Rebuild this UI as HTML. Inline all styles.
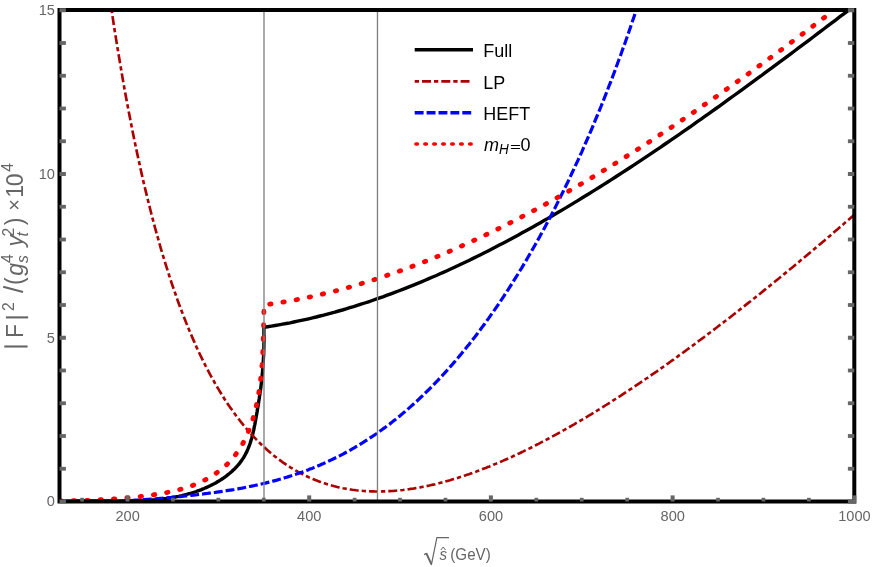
<!DOCTYPE html>
<html><head><meta charset="utf-8"><title>plot</title>
<style>
html,body{margin:0;padding:0;background:#fff;}
body{width:872px;height:567px;position:relative;overflow:hidden;font-family:"Liberation Sans",sans-serif;}
</style></head><body>
<svg width="872" height="567" viewBox="0 0 872 567" style="position:absolute;left:0;top:0;will-change:transform;opacity:0.999">
<defs><clipPath id="c"><rect x="59.5" y="10.0" width="794.8" height="491.5"/></clipPath></defs>
<g clip-path="url(#c)" fill="none">
<path d="M59.6,501.7 L61.2,501.6 L62.8,501.5 L64.4,501.4 L66.0,501.4 L67.7,501.3 L69.3,501.2 L70.9,501.1 L72.6,501.1 L74.2,501.0 L75.8,501.0 L77.5,501.0 L79.1,500.9 L80.8,500.9 L82.4,500.9 L84.1,500.9 L85.7,500.9 L87.4,500.9 L89.1,500.9 L90.7,500.9 L92.4,500.9 L94.0,500.9 L95.7,500.9 L97.4,500.9 L99.0,500.9 L100.7,500.9 L102.4,501.0 L104.0,501.0 L105.7,501.0 L107.4,501.0 L109.1,501.0 L110.7,501.0 L112.4,501.0 L114.1,501.1 L115.8,501.1 L117.4,501.1 L119.1,501.1 L120.8,501.1 L122.5,501.1 L124.1,501.1 L125.8,501.0 L127.5,501.0 L129.2,501.0 L130.8,501.0 L132.5,500.9 L134.2,500.9 L135.9,500.9 L137.5,500.8 L139.2,500.8 L140.9,500.7 L142.5,500.6 L144.2,500.5 L145.9,500.4 L147.5,500.3 L149.2,500.2 L150.8,500.1 L152.5,500.0 L154.2,499.9 L155.8,499.7 L157.5,499.5 L159.1,499.4 L160.8,499.2 L162.4,499.0 L164.1,498.8 L165.7,498.6 L167.3,498.3 L169.0,498.1 L170.6,497.8 L172.2,497.5 L173.8,497.3 L175.5,497.0 L177.1,496.6 L178.7,496.3 L180.3,495.9 L181.9,495.6 L183.5,495.2 L185.1,494.8 L186.7,494.4 L188.3,493.9 L189.9,493.5 L191.5,493.0 L193.1,492.5 L194.7,492.0 L196.2,491.5 L197.8,490.9 L199.4,490.3 L200.9,489.8 L202.5,489.1 L204.0,488.5 L205.6,487.8 L207.1,487.2 L208.6,486.5 L210.1,485.8 L211.6,485.0 L213.1,484.2 L214.6,483.5 L216.1,482.7 L217.5,481.8 L218.9,481.0 L220.3,480.1 L221.7,479.2 L223.1,478.3 L224.5,477.3 L225.8,476.4 L227.1,475.4 L228.4,474.3 L229.7,473.3 L230.9,472.2 L232.1,471.2 L233.3,470.0 L234.5,468.9 L235.6,467.8 L236.7,466.6 L237.8,465.4 L238.9,464.1 L239.9,462.9 L240.8,461.6 L241.8,460.3 L242.7,458.9 L243.6,457.6 L244.4,456.2 L245.2,454.8 L245.9,453.3 L246.7,451.9 L247.3,450.4 L248.0,448.9 L248.6,447.4 L249.2,445.8 L249.8,444.3 L250.3,442.7 L250.8,441.1 L251.3,439.5 L251.8,437.9 L252.2,436.2 L252.6,434.6 L253.0,432.9 L253.4,431.3 L253.8,429.6 L254.1,427.9 L254.4,426.3 L254.8,424.6 L255.1,422.9 L255.4,421.2 L255.7,419.6 L256.0,417.9 L256.3,416.2 L256.6,414.6 L256.9,412.9 L257.2,411.3 L257.4,409.6 L257.7,408.0 L258.0,406.3 L258.3,404.7 L258.5,403.1 L258.8,401.4 L259.0,399.8 L259.3,398.2 L259.5,396.5 L259.8,394.9 L260.0,393.3 L260.2,391.6 L260.5,390.0 L260.7,388.4 L260.9,386.8 L261.1,385.1 L261.3,383.5 L261.5,381.9 L261.7,380.2 L261.8,378.6 L262.0,376.9 L262.2,375.3 L262.3,373.7 L262.5,372.0 L262.6,370.4 L262.7,368.7 L262.9,367.1 L263.0,365.5 L263.1,363.8 L263.2,362.2 L263.3,360.5 L263.4,358.9 L263.5,357.2 L263.6,355.6 L263.7,353.9 L263.7,352.2 L263.8,350.6 L263.8,348.9 L263.9,347.3 L263.9,345.6 L263.9,344.0 L264.0,342.3 L264.0,340.6 L264.0,339.0 L264.0,337.3 L264.0,335.6 L263.9,334.0 L263.9,332.3 L263.9,330.6 L263.9,328.9 L263.9,327.3 L267.6,326.7 L271.4,326.1 L275.1,325.5 L278.8,324.9 L282.6,324.2 L286.3,323.5 L290.1,322.8 L293.8,322.0 L297.5,321.2 L301.3,320.4 L305.0,319.6 L308.7,318.8 L312.5,317.9 L316.2,317.0 L319.9,316.0 L323.7,315.1 L327.4,314.1 L331.2,313.1 L334.9,312.1 L338.6,311.0 L342.4,310.0 L346.1,308.9 L349.8,307.7 L353.6,306.6 L357.3,305.4 L361.0,304.2 L364.8,303.0 L368.5,301.8 L372.3,300.5 L376.0,299.2 L379.7,297.9 L383.5,296.6 L387.2,295.2 L390.9,293.8 L394.7,292.4 L398.4,291.0 L402.1,289.6 L405.9,288.1 L409.6,286.6 L413.4,285.1 L417.1,283.6 L420.8,282.1 L424.6,280.5 L428.3,278.9 L432.0,277.3 L435.8,275.7 L439.5,274.0 L443.3,272.4 L447.0,270.7 L450.7,269.0 L454.5,267.3 L458.2,265.5 L461.9,263.8 L465.7,262.0 L469.4,260.2 L473.1,258.4 L476.9,256.5 L480.6,254.7 L484.4,252.8 L488.1,250.9 L491.8,249.0 L495.6,247.1 L499.3,245.1 L503.0,243.2 L506.8,241.2 L510.5,239.2 L514.2,237.2 L518.0,235.2 L521.7,233.1 L525.5,231.1 L529.2,229.0 L532.9,226.9 L536.7,224.8 L540.4,222.7 L544.1,220.5 L547.9,218.4 L551.6,216.2 L555.3,214.0 L559.1,211.8 L562.8,209.6 L566.6,207.4 L570.3,205.1 L574.0,202.9 L577.8,200.6 L581.5,198.3 L585.2,196.0 L589.0,193.7 L592.7,191.4 L596.4,189.1 L600.2,186.7 L603.9,184.4 L607.7,182.0 L611.4,179.6 L615.1,177.2 L618.9,174.8 L622.6,172.4 L626.3,170.0 L630.1,167.5 L633.8,165.1 L637.5,162.6 L641.3,160.1 L645.0,157.6 L648.8,155.1 L652.5,152.6 L656.2,150.1 L660.0,147.6 L663.7,145.0 L667.4,142.5 L671.2,139.9 L674.9,137.3 L678.6,134.8 L682.4,132.2 L686.1,129.6 L689.9,127.0 L693.6,124.3 L697.3,121.7 L701.1,119.1 L704.8,116.4 L708.5,113.8 L712.3,111.1 L716.0,108.5 L719.8,105.8 L723.5,103.1 L727.2,100.4 L731.0,97.7 L734.7,95.0 L738.4,92.3 L742.2,89.6 L745.9,86.9 L749.6,84.2 L753.4,81.4 L757.1,78.7 L760.9,76.0 L764.6,73.2 L768.3,70.4 L772.1,67.7 L775.8,64.9 L779.5,62.1 L783.3,59.4 L787.0,56.6 L790.7,53.8 L794.5,51.0 L798.2,48.2 L802.0,45.4 L805.7,42.6 L809.4,39.8 L813.2,37.0 L816.9,34.2 L820.6,31.4 L824.4,28.5 L828.1,25.7 L831.8,22.9 L835.6,20.1 L839.3,17.2 L843.1,14.4 L846.8,11.6 L850.5,8.7 L854.3,5.9 L858.0,3.1" stroke="#000" stroke-width="3.4" stroke-linejoin="miter"/>
<path d="M108.0,-14.5 L109.9,-1.5 L111.8,11.3 L113.6,23.6 L115.5,35.6 L117.4,47.3 L119.3,58.7 L121.2,69.8 L123.0,80.6 L124.9,91.2 L126.8,101.4 L128.7,111.4 L130.6,121.1 L132.4,130.6 L134.3,139.8 L136.2,148.8 L138.1,157.6 L140.0,166.2 L141.8,174.5 L143.7,182.7 L145.6,190.6 L147.5,198.4 L149.4,206.0 L151.2,213.3 L153.1,220.5 L155.0,227.6 L156.9,234.4 L158.8,241.1 L160.6,247.7 L162.5,254.0 L164.4,260.3 L166.3,266.4 L168.2,272.3 L170.0,278.1 L171.9,283.8 L173.8,289.3 L175.7,294.7 L177.5,300.0 L179.4,305.2 L181.3,310.2 L183.2,315.1 L185.1,319.9 L186.9,324.6 L188.8,329.2 L190.7,333.7 L192.6,338.1 L194.5,342.4 L196.3,346.6 L198.2,350.7 L200.1,354.7 L202.0,358.6 L203.9,362.4 L205.7,366.1 L207.6,369.7 L209.5,373.3 L211.4,376.8 L213.3,380.2 L215.1,383.5 L217.0,386.7 L218.9,389.9 L220.8,393.0 L222.7,396.0 L224.5,399.0 L226.4,401.9 L228.3,404.7 L230.2,407.4 L232.1,410.1 L233.9,412.7 L235.8,415.3 L237.7,417.8 L239.6,420.2 L241.5,422.6 L243.3,424.9 L245.2,427.2 L247.1,429.4 L249.0,431.6 L250.9,433.7 L252.7,435.7 L254.6,437.7 L256.5,439.7 L258.4,441.6 L260.3,443.5 L262.1,445.3 L264.0,447.0 L265.9,448.7 L267.8,450.4 L269.7,452.1 L271.5,453.6 L273.4,455.2 L275.3,456.7 L277.2,458.1 L279.1,459.6 L280.9,460.9 L282.8,462.3 L284.7,463.6 L286.6,464.9 L288.5,466.1 L290.3,467.3 L292.2,468.4 L294.1,469.6 L296.0,470.7 L297.8,471.7 L299.7,472.7 L301.6,473.7 L303.5,474.7 L305.4,475.6 L307.2,476.5 L309.1,477.4 L311.0,478.2 L312.9,479.0 L314.8,479.8 L316.6,480.5 L318.5,481.2 L320.4,481.9 L322.3,482.6 L324.2,483.2 L326.0,483.8 L327.9,484.4 L329.8,485.0 L331.7,485.5 L333.6,486.0 L335.4,486.5 L337.3,487.0 L339.2,487.4 L341.1,487.8 L343.0,488.2 L344.8,488.5 L346.7,488.9 L348.6,489.2 L350.5,489.5 L352.4,489.8 L354.2,490.0 L356.1,490.3 L358.0,490.5 L359.9,490.7 L361.8,490.8 L363.6,491.0 L365.5,491.1 L367.4,491.2 L369.3,491.3 L371.2,491.4 L373.0,491.4 L374.9,491.5 L376.8,491.5 L378.7,491.5 L380.6,491.5 L382.4,491.4 L384.3,491.4 L386.2,491.3 L388.1,491.2 L390.0,491.1 L391.8,491.0 L393.7,490.9 L395.6,490.7 L397.5,490.5 L399.4,490.4 L401.2,490.2 L403.1,490.0 L405.0,489.7 L406.9,489.5 L408.8,489.2 L410.6,488.9 L412.5,488.7 L414.4,488.4 L416.3,488.0 L418.2,487.7 L420.0,487.4 L421.9,487.0 L423.8,486.6 L425.7,486.3 L427.5,485.9 L429.4,485.5 L431.3,485.0 L433.2,484.6 L435.1,484.2 L436.9,483.7 L438.8,483.2 L440.7,482.7 L442.6,482.3 L444.5,481.7 L446.3,481.2 L448.2,480.7 L450.1,480.2 L452.0,479.6 L453.9,479.0 L455.7,478.5 L457.6,477.9 L459.5,477.3 L461.4,476.7 L463.3,476.1 L465.1,475.4 L467.0,474.8 L468.9,474.2 L470.8,473.5 L472.7,472.8 L474.5,472.1 L476.4,471.5 L478.3,470.8 L480.2,470.1 L482.1,469.3 L483.9,468.6 L485.8,467.9 L487.7,467.1 L489.6,466.4 L491.5,465.6 L493.3,464.8 L495.2,464.1 L497.1,463.3 L499.0,462.5 L500.9,461.7 L502.7,460.9 L504.6,460.0 L506.5,459.2 L508.4,458.4 L510.3,457.5 L512.1,456.7 L514.0,455.8 L515.9,454.9 L517.8,454.0 L519.7,453.2 L521.5,452.3 L523.4,451.4 L525.3,450.4 L527.2,449.5 L529.1,448.6 L530.9,447.7 L532.8,446.7 L534.7,445.8 L536.6,444.8 L538.5,443.9 L540.3,442.9 L542.2,441.9 L544.1,440.9 L546.0,439.9 L547.8,439.0 L549.7,438.0 L551.6,436.9 L553.5,435.9 L555.4,434.9 L557.2,433.9 L559.1,432.8 L561.0,431.8 L562.9,430.7 L564.8,429.7 L566.6,428.6 L568.5,427.6 L570.4,426.5 L572.3,425.4 L574.2,424.3 L576.0,423.2 L577.9,422.1 L579.8,421.0 L581.7,419.9 L583.6,418.8 L585.4,417.7 L587.3,416.6 L589.2,415.4 L591.1,414.3 L593.0,413.1 L594.8,412.0 L596.7,410.8 L598.6,409.7 L600.5,408.5 L602.4,407.3 L604.2,406.2 L606.1,405.0 L608.0,403.8 L609.9,402.6 L611.8,401.4 L613.6,400.2 L615.5,399.0 L617.4,397.8 L619.3,396.6 L621.2,395.4 L623.0,394.1 L624.9,392.9 L626.8,391.7 L628.7,390.4 L630.6,389.2 L632.4,387.9 L634.3,386.7 L636.2,385.4 L638.1,384.1 L640.0,382.9 L641.8,381.6 L643.7,380.3 L645.6,379.0 L647.5,377.8 L649.4,376.5 L651.2,375.2 L653.1,373.9 L655.0,372.6 L656.9,371.3 L658.8,369.9 L660.6,368.6 L662.5,367.3 L664.4,366.0 L666.3,364.6 L668.2,363.3 L670.0,362.0 L671.9,360.6 L673.8,359.3 L675.7,357.9 L677.5,356.6 L679.4,355.2 L681.3,353.9 L683.2,352.5 L685.1,351.1 L686.9,349.8 L688.8,348.4 L690.7,347.0 L692.6,345.6 L694.5,344.2 L696.3,342.8 L698.2,341.4 L700.1,340.0 L702.0,338.6 L703.9,337.2 L705.7,335.8 L707.6,334.4 L709.5,333.0 L711.4,331.6 L713.3,330.1 L715.1,328.7 L717.0,327.3 L718.9,325.8 L720.8,324.4 L722.7,323.0 L724.5,321.5 L726.4,320.1 L728.3,318.6 L730.2,317.2 L732.1,315.7 L733.9,314.3 L735.8,312.8 L737.7,311.3 L739.6,309.8 L741.5,308.4 L743.3,306.9 L745.2,305.4 L747.1,303.9 L749.0,302.4 L750.9,301.0 L752.7,299.5 L754.6,298.0 L756.5,296.5 L758.4,295.0 L760.3,293.5 L762.1,292.0 L764.0,290.4 L765.9,288.9 L767.8,287.4 L769.7,285.9 L771.5,284.4 L773.4,282.9 L775.3,281.3 L777.2,279.8 L779.1,278.3 L780.9,276.7 L782.8,275.2 L784.7,273.6 L786.6,272.1 L788.5,270.6 L790.3,269.0 L792.2,267.5 L794.1,265.9 L796.0,264.3 L797.8,262.8 L799.7,261.2 L801.6,259.6 L803.5,258.1 L805.4,256.5 L807.2,254.9 L809.1,253.4 L811.0,251.8 L812.9,250.2 L814.8,248.6 L816.6,247.0 L818.5,245.4 L820.4,243.9 L822.3,242.3 L824.2,240.7 L826.0,239.1 L827.9,237.5 L829.8,235.9 L831.7,234.3 L833.6,232.6 L835.4,231.0 L837.3,229.4 L839.2,227.8 L841.1,226.2 L843.0,224.6 L844.8,222.9 L846.7,221.3 L848.6,219.7 L850.5,218.1 L852.4,216.4 L854.2,214.8 L856.1,213.2 L858.0,211.5" stroke="#aa0000" stroke-width="2.65" stroke-dasharray="9 3.02 4.3 3.022" stroke-dashoffset="7.74"/>
<path d="M59.5,500.9 L61.4,501.0 L63.4,501.2 L65.3,501.3 L67.3,501.4 L69.2,501.6 L71.1,501.7 L73.1,501.7 L75.0,501.8 L77.0,501.9 L78.9,501.9 L80.9,502.0 L82.8,502.0 L84.7,502.0 L86.7,502.0 L88.6,502.0 L90.6,502.0 L92.5,502.0 L94.4,502.0 L96.4,501.9 L98.3,501.9 L100.3,501.9 L102.2,501.8 L104.2,501.8 L106.1,501.7 L108.0,501.6 L110.0,501.6 L111.9,501.5 L113.9,501.4 L115.8,501.3 L117.7,501.2 L119.7,501.1 L121.6,501.0 L123.6,500.9 L125.5,500.8 L127.5,500.7 L129.4,500.6 L131.3,500.5 L133.3,500.3 L135.2,500.2 L137.2,500.1 L139.1,500.0 L141.0,499.8 L143.0,499.7 L144.9,499.6 L146.9,499.4 L148.8,499.3 L150.7,499.1 L152.7,499.0 L154.6,498.8 L156.6,498.7 L158.5,498.5 L160.5,498.3 L162.4,498.2 L164.3,498.0 L166.3,497.8 L168.2,497.7 L170.2,497.5 L172.1,497.3 L174.0,497.1 L176.0,496.9 L177.9,496.7 L179.9,496.6 L181.8,496.4 L183.8,496.2 L185.7,496.0 L187.6,495.8 L189.6,495.6 L191.5,495.3 L193.5,495.1 L195.4,494.9 L197.3,494.7 L199.3,494.4 L201.2,494.2 L203.2,494.0 L205.1,493.7 L207.1,493.5 L209.0,493.2 L210.9,493.0 L212.9,492.7 L214.8,492.5 L216.8,492.2 L218.7,491.9 L220.6,491.6 L222.6,491.3 L224.5,491.0 L226.5,490.7 L228.4,490.4 L230.3,490.1 L232.3,489.8 L234.2,489.5 L236.2,489.1 L238.1,488.8 L240.1,488.4 L242.0,488.1 L243.9,487.7 L245.9,487.3 L247.8,486.9 L249.8,486.5 L251.7,486.1 L253.6,485.7 L255.6,485.3 L257.5,484.9 L259.5,484.4 L261.4,484.0 L263.4,483.5 L265.3,483.1 L267.2,482.6 L269.2,482.1 L271.1,481.6 L273.1,481.1 L275.0,480.6 L276.9,480.1 L278.9,479.5 L280.8,479.0 L282.8,478.4 L284.7,477.8 L286.7,477.2 L288.6,476.6 L290.5,476.0 L292.5,475.4 L294.4,474.7 L296.4,474.1 L298.3,473.4 L300.2,472.7 L302.2,472.1 L304.1,471.4 L306.1,470.6 L308.0,469.9 L309.9,469.1 L311.9,468.4 L313.8,467.6 L315.8,466.8 L317.7,466.0 L319.7,465.2 L321.6,464.3 L323.5,463.5 L325.5,462.6 L327.4,461.7 L329.4,460.8 L331.3,459.9 L333.2,459.0 L335.2,458.0 L337.1,457.1 L339.1,456.1 L341.0,455.1 L343.0,454.1 L344.9,453.0 L346.8,452.0 L348.8,450.9 L350.7,449.8 L352.7,448.7 L354.6,447.6 L356.5,446.4 L358.5,445.3 L360.4,444.1 L362.4,442.9 L364.3,441.7 L366.3,440.4 L368.2,439.2 L370.1,437.9 L372.1,436.6 L374.0,435.3 L376.0,434.0 L377.9,432.6 L379.8,431.2 L381.8,429.8 L383.7,428.4 L385.7,427.0 L387.6,425.5 L389.6,424.1 L391.5,422.6 L393.4,421.0 L395.4,419.5 L397.3,417.9 L399.3,416.4 L401.2,414.8 L403.1,413.1 L405.1,411.5 L407.0,409.8 L409.0,408.1 L410.9,406.4 L412.8,404.7 L414.8,402.9 L416.7,401.2 L418.7,399.3 L420.6,397.5 L422.6,395.7 L424.5,393.8 L426.4,391.9 L428.4,390.0 L430.3,388.1 L432.3,386.1 L434.2,384.1 L436.1,382.1 L438.1,380.1 L440.0,378.0 L442.0,375.9 L443.9,373.8 L445.9,371.7 L447.8,369.5 L449.7,367.4 L451.7,365.2 L453.6,362.9 L455.6,360.7 L457.5,358.4 L459.4,356.1 L461.4,353.8 L463.3,351.4 L465.3,349.0 L467.2,346.6 L469.2,344.2 L471.1,341.7 L473.0,339.2 L475.0,336.7 L476.9,334.2 L478.9,331.6 L480.8,329.0 L482.7,326.4 L484.7,323.8 L486.6,321.1 L488.6,318.4 L490.5,315.7 L492.4,312.9 L494.4,310.1 L496.3,307.3 L498.3,304.5 L500.2,301.6 L502.2,298.7 L504.1,295.8 L506.0,292.8 L508.0,289.9 L509.9,286.8 L511.9,283.8 L513.8,280.7 L515.7,277.6 L517.7,274.5 L519.6,271.3 L521.6,268.1 L523.5,264.9 L525.5,261.6 L527.4,258.3 L529.3,255.0 L531.3,251.6 L533.2,248.2 L535.2,244.8 L537.1,241.4 L539.0,237.9 L541.0,234.3 L542.9,230.8 L544.9,227.2 L546.8,223.6 L548.8,219.9 L550.7,216.2 L552.6,212.5 L554.6,208.7 L556.5,204.9 L558.5,201.0 L560.4,197.1 L562.3,193.2 L564.3,189.3 L566.2,185.3 L568.2,181.2 L570.1,177.1 L572.0,173.0 L574.0,168.8 L575.9,164.6 L577.9,160.4 L579.8,156.1 L581.8,151.8 L583.7,147.4 L585.6,143.0 L587.6,138.5 L589.5,134.0 L591.5,129.5 L593.4,124.9 L595.3,120.2 L597.3,115.5 L599.2,110.8 L601.2,106.0 L603.1,101.1 L605.1,96.2 L607.0,91.3 L608.9,86.3 L610.9,81.3 L612.8,76.2 L614.8,71.0 L616.7,65.8 L618.6,60.5 L620.6,55.2 L622.5,49.8 L624.5,44.4 L626.4,38.9 L628.4,33.3 L630.3,27.7 L632.2,22.1 L634.2,16.3 L636.1,10.5 L638.1,4.6 L640.0,-1.3" stroke="#0000ff" stroke-width="3.2" stroke-dasharray="8.9 3.002" stroke-dashoffset="11.8"/>
<path d="M59.5,501.0 L61.2,501.0 L62.9,500.9 L64.7,500.9 L66.4,500.9 L68.1,500.8 L69.9,500.8 L71.6,500.7 L73.3,500.7 L75.0,500.7 L76.8,500.6 L78.5,500.6 L80.2,500.5 L81.9,500.5 L83.7,500.4 L85.4,500.4 L87.1,500.3 L88.8,500.3 L90.6,500.2 L92.3,500.1 L94.0,500.1 L95.7,500.0 L97.4,499.9 L99.1,499.8 L100.9,499.7 L102.6,499.7 L104.3,499.6 L106.0,499.5 L107.7,499.4 L109.4,499.3 L111.1,499.2 L112.9,499.0 L114.6,498.9 L116.3,498.8 L118.0,498.7 L119.7,498.5 L121.4,498.4 L123.1,498.3 L124.8,498.1 L126.5,498.0 L128.3,497.8 L130.0,497.6 L131.7,497.5 L133.4,497.3 L135.1,497.1 L136.8,496.9 L138.5,496.7 L140.2,496.5 L141.9,496.3 L143.6,496.1 L145.3,495.9 L147.1,495.7 L148.8,495.4 L150.5,495.2 L152.2,495.0 L153.9,494.7 L155.6,494.4 L157.3,494.2 L159.0,493.9 L160.7,493.6 L162.4,493.3 L164.1,493.0 L165.8,492.7 L167.5,492.4 L169.2,492.0 L170.9,491.7 L172.6,491.3 L174.3,490.9 L176.0,490.5 L177.7,490.1 L179.4,489.6 L181.0,489.2 L182.7,488.7 L184.4,488.2 L186.0,487.7 L187.7,487.2 L189.3,486.6 L191.0,486.0 L192.6,485.4 L194.2,484.8 L195.8,484.2 L197.4,483.5 L199.0,482.8 L200.6,482.1 L202.2,481.3 L203.8,480.5 L205.3,479.8 L206.9,478.9 L208.4,478.1 L209.9,477.2 L211.4,476.3 L212.8,475.4 L214.3,474.5 L215.7,473.5 L217.1,472.5 L218.5,471.5 L219.9,470.5 L221.2,469.5 L222.6,468.4 L223.9,467.3 L225.1,466.1 L226.4,465.0 L227.6,463.8 L228.8,462.6 L229.9,461.4 L231.1,460.2 L232.2,458.9 L233.3,457.6 L234.3,456.3 L235.3,455.0 L236.3,453.6 L237.3,452.3 L238.3,450.9 L239.2,449.5 L240.1,448.0 L241.0,446.6 L241.8,445.1 L242.7,443.7 L243.5,442.2 L244.3,440.7 L245.0,439.2 L245.8,437.6 L246.5,436.1 L247.2,434.5 L247.9,432.9 L248.5,431.3 L249.2,429.7 L249.8,428.1 L250.4,426.5 L251.0,424.9 L251.5,423.2 L252.1,421.6 L252.6,419.9 L253.1,418.3 L253.6,416.6 L254.1,414.9 L254.5,413.2 L255.0,411.5 L255.4,409.8 L255.8,408.1 L256.2,406.4 L256.6,404.6 L256.9,402.9 L257.3,401.2 L257.6,399.5 L257.9,397.7 L258.2,396.0 L258.5,394.3 L258.8,392.5 L259.1,390.8 L259.4,389.1 L259.6,387.3 L259.8,385.6 L260.1,383.9 L260.3,382.1 L260.5,380.4 L260.7,378.7 L260.9,376.9 L261.1,375.2 L261.2,373.5 L261.4,371.8 L261.5,370.1 L261.7,368.4 L261.8,366.7 L262.0,365.0 L262.1,363.3 L262.2,361.6 L262.3,359.9 L262.4,358.2 L262.5,356.5 L262.6,354.8 L262.7,353.1 L262.8,351.4 L262.8,349.7 L262.9,348.0 L263.0,346.3 L263.1,344.6 L263.1,342.9 L263.2,341.2 L263.2,339.5 L263.3,337.8 L263.3,336.1 L263.4,334.4 L263.4,332.7 L263.4,331.0 L263.5,329.3 L263.5,327.6 L263.6,325.9 L263.6,324.2 L263.6,322.4 L263.7,320.7 L263.7,319.0 L263.7,317.2 L263.8,315.5 L263.8,313.7 L263.9,312.0 L263.9,310.2 L263.9,308.4 L264.0,306.7 L263.9,305.0 L267.5,304.5 L271.0,304.0 L274.6,303.5 L278.2,302.9 L281.7,302.3 L285.3,301.7 L288.9,301.1 L292.4,300.5 L296.0,299.8 L299.6,299.1 L303.1,298.4 L306.7,297.6 L310.3,296.9 L313.8,296.1 L317.4,295.3 L321.0,294.5 L324.5,293.6 L328.1,292.8 L331.7,291.9 L335.2,291.0 L338.8,290.0 L342.4,289.1 L345.9,288.1 L349.5,287.1 L353.1,286.1 L356.6,285.1 L360.2,284.0 L363.8,282.9 L367.3,281.8 L370.9,280.7 L374.5,279.6 L378.0,278.4 L381.6,277.2 L385.2,276.0 L388.7,274.8 L392.3,273.6 L395.9,272.4 L399.4,271.1 L403.0,269.8 L406.6,268.5 L410.1,267.2 L413.7,265.8 L417.3,264.4 L420.8,263.1 L424.4,261.7 L428.0,260.2 L431.5,258.8 L435.1,257.4 L438.7,255.9 L442.2,254.4 L445.8,252.9 L449.4,251.4 L452.9,249.8 L456.5,248.3 L460.1,246.7 L463.6,245.1 L467.2,243.5 L470.8,241.9 L474.3,240.2 L477.9,238.6 L481.5,236.9 L485.0,235.2 L488.6,233.5 L492.2,231.8 L495.7,230.0 L499.3,228.3 L502.9,226.5 L506.4,224.7 L510.0,222.9 L513.6,221.1 L517.1,219.2 L520.7,217.4 L524.3,215.5 L527.8,213.7 L531.4,211.8 L535.0,209.9 L538.5,207.9 L542.1,206.0 L545.7,204.1 L549.2,202.1 L552.8,200.1 L556.4,198.1 L559.9,196.1 L563.5,194.1 L567.1,192.1 L570.6,190.0 L574.2,188.0 L577.8,185.9 L581.3,183.8 L584.9,181.7 L588.5,179.6 L592.0,177.5 L595.6,175.3 L599.2,173.2 L602.7,171.0 L606.3,168.9 L609.9,166.7 L613.4,164.5 L617.0,162.3 L620.6,160.1 L624.1,157.8 L627.7,155.6 L631.3,153.3 L634.8,151.1 L638.4,148.8 L642.0,146.5 L645.5,144.2 L649.1,141.9 L652.7,139.6 L656.2,137.2 L659.8,134.9 L663.4,132.5 L666.9,130.2 L670.5,127.8 L674.1,125.4 L677.6,123.0 L681.2,120.6 L684.8,118.2 L688.3,115.8 L691.9,113.4 L695.5,110.9 L699.0,108.5 L702.6,106.0 L706.2,103.5 L709.7,101.1 L713.3,98.6 L716.9,96.1 L720.4,93.6 L724.0,91.1 L727.6,88.5 L731.1,86.0 L734.7,83.5 L738.3,80.9 L741.8,78.4 L745.4,75.8 L749.0,73.3 L752.5,70.7 L756.1,68.1 L759.7,65.5 L763.2,62.9 L766.8,60.3 L770.4,57.7 L773.9,55.1 L777.5,52.5 L781.1,49.9 L784.6,47.2 L788.2,44.6 L791.8,41.9 L795.3,39.3 L798.9,36.6 L802.5,34.0 L806.0,31.3 L809.6,28.6 L813.2,25.9 L816.7,23.2 L820.3,20.5 L823.9,17.8 L827.4,15.1 L831.0,12.4" stroke="#ff0000" stroke-width="4.8" stroke-linecap="round" stroke-dasharray="1.4 12" stroke-dashoffset="13.0"/>
</g>
<line x1="264.0" y1="10.0" x2="264.0" y2="501.5" stroke="#808080" stroke-width="1.35"/>
<line x1="377.48" y1="10.0" x2="377.48" y2="501.5" stroke="#808080" stroke-width="1.35"/>
<rect x="59.5" y="10.0" width="794.8" height="491.5" fill="none" stroke="#000" stroke-width="4"/>
<rect x="59.5" y="499.50" width="6.4" height="4.0" fill="#666666"/>
<rect x="847.9" y="499.50" width="6.4" height="4.0" fill="#666666"/>
<rect x="59.5" y="466.85" width="6.4" height="3.8" fill="#666666"/>
<rect x="847.9" y="466.85" width="6.4" height="3.8" fill="#666666"/>
<rect x="59.5" y="434.10" width="6.4" height="3.8" fill="#666666"/>
<rect x="847.9" y="434.10" width="6.4" height="3.8" fill="#666666"/>
<rect x="59.5" y="401.35" width="6.4" height="3.8" fill="#666666"/>
<rect x="847.9" y="401.35" width="6.4" height="3.8" fill="#666666"/>
<rect x="59.5" y="368.60" width="6.4" height="3.8" fill="#666666"/>
<rect x="847.9" y="368.60" width="6.4" height="3.8" fill="#666666"/>
<rect x="59.5" y="335.75" width="6.4" height="4.0" fill="#666666"/>
<rect x="847.9" y="335.75" width="6.4" height="4.0" fill="#666666"/>
<rect x="59.5" y="303.10" width="6.4" height="3.8" fill="#666666"/>
<rect x="847.9" y="303.10" width="6.4" height="3.8" fill="#666666"/>
<rect x="59.5" y="270.35" width="6.4" height="3.8" fill="#666666"/>
<rect x="847.9" y="270.35" width="6.4" height="3.8" fill="#666666"/>
<rect x="59.5" y="237.60" width="6.4" height="3.8" fill="#666666"/>
<rect x="847.9" y="237.60" width="6.4" height="3.8" fill="#666666"/>
<rect x="59.5" y="204.85" width="6.4" height="3.8" fill="#666666"/>
<rect x="847.9" y="204.85" width="6.4" height="3.8" fill="#666666"/>
<rect x="59.5" y="172.00" width="6.4" height="4.0" fill="#666666"/>
<rect x="847.9" y="172.00" width="6.4" height="4.0" fill="#666666"/>
<rect x="59.5" y="139.35" width="6.4" height="3.8" fill="#666666"/>
<rect x="847.9" y="139.35" width="6.4" height="3.8" fill="#666666"/>
<rect x="59.5" y="106.60" width="6.4" height="3.8" fill="#666666"/>
<rect x="847.9" y="106.60" width="6.4" height="3.8" fill="#666666"/>
<rect x="59.5" y="73.85" width="6.4" height="3.8" fill="#666666"/>
<rect x="847.9" y="73.85" width="6.4" height="3.8" fill="#666666"/>
<rect x="59.5" y="41.10" width="6.4" height="3.8" fill="#666666"/>
<rect x="847.9" y="41.10" width="6.4" height="3.8" fill="#666666"/>
<rect x="59.5" y="8.25" width="6.4" height="4.0" fill="#666666"/>
<rect x="847.9" y="8.25" width="6.4" height="4.0" fill="#666666"/>
<rect x="80.22" y="497.8" width="3.7" height="3.7" fill="#666666"/>
<rect x="125.50" y="495.4" width="4.0" height="6.1" fill="#666666"/>
<rect x="171.07" y="497.8" width="3.7" height="3.7" fill="#666666"/>
<rect x="216.50" y="497.8" width="3.7" height="3.7" fill="#666666"/>
<rect x="261.92" y="497.8" width="3.7" height="3.7" fill="#666666"/>
<rect x="307.20" y="495.4" width="4.0" height="6.1" fill="#666666"/>
<rect x="352.77" y="497.8" width="3.7" height="3.7" fill="#666666"/>
<rect x="398.20" y="497.8" width="3.7" height="3.7" fill="#666666"/>
<rect x="443.62" y="497.8" width="3.7" height="3.7" fill="#666666"/>
<rect x="488.90" y="495.4" width="4.0" height="6.1" fill="#666666"/>
<rect x="534.48" y="497.8" width="3.7" height="3.7" fill="#666666"/>
<rect x="579.90" y="497.8" width="3.7" height="3.7" fill="#666666"/>
<rect x="625.32" y="497.8" width="3.7" height="3.7" fill="#666666"/>
<rect x="670.60" y="495.4" width="4.0" height="6.1" fill="#666666"/>
<rect x="716.17" y="497.8" width="3.7" height="3.7" fill="#666666"/>
<rect x="761.60" y="497.8" width="3.7" height="3.7" fill="#666666"/>
<rect x="807.02" y="497.8" width="3.7" height="3.7" fill="#666666"/>
<rect x="852.30" y="495.4" width="4.0" height="8.1" fill="#666666"/>
<g font-family="Liberation Sans, sans-serif" font-size="14.6" fill="#666666">
<text transform="translate(54.9,506.4) scale(1,1.05)" text-anchor="end">0</text>
<text transform="translate(54.9,342.6) scale(1,1.05)" text-anchor="end">5</text>
<text transform="translate(54.9,178.9) scale(1,1.05)" text-anchor="end">10</text>
<text transform="translate(54.9,15.2) scale(1,1.05)" text-anchor="end">15</text>
<text transform="translate(127.6,521.0) scale(1,1.06)" text-anchor="middle">200</text>
<text transform="translate(309.3,521.0) scale(1,1.06)" text-anchor="middle">400</text>
<text transform="translate(491.0,521.0) scale(1,1.06)" text-anchor="middle">600</text>
<text transform="translate(672.7,521.0) scale(1,1.06)" text-anchor="middle">800</text>
<text transform="translate(854.4,521.0) scale(1,1.06)" text-anchor="middle">1000</text>
</g>
<line x1="414.7" y1="49.8" x2="473" y2="49.8" stroke="#000" stroke-width="3.4"/>
<line x1="414.7" y1="81.4" x2="469.5" y2="81.4" stroke="#aa0000" stroke-width="2.8" stroke-dasharray="4.3 3 9 3"/>
<line x1="414.7" y1="112.8" x2="473" y2="112.8" stroke="#0000ff" stroke-width="3.4" stroke-dasharray="8.9 3"/>
<line x1="415.9" y1="144.0" x2="472" y2="144.0" stroke="#ff0000" stroke-width="3.6" stroke-linecap="round" stroke-dasharray="1.5 7.46"/>
<g font-family="Liberation Sans, sans-serif" font-size="18" fill="#000">
<text transform="translate(483.2,57.099999999999994) scale(1,1.04)" text-anchor="start">Full</text>
<text transform="translate(483.2,88.7) scale(1,1.04)" text-anchor="start">LP</text>
<text transform="translate(483.2,120.1) scale(1,1.04)" text-anchor="start">HEFT</text>
<text transform="translate(483.9,150.9) scale(1,1.04)" text-anchor="start" font-style="italic">m</text>
<text transform="translate(499.0,154.0) scale(1,1.04)" text-anchor="start" font-size="13.5" font-style="italic">H</text>
<text transform="translate(510.2,150.9) scale(1,0.71)" stroke="#000" stroke-width="0.4">=</text>
<text transform="translate(520.4,150.9) scale(1,1.04)" text-anchor="start">0</text>
</g>
<g fill="#666666" font-family="Liberation Sans, sans-serif" font-size="15.2">
<path d="M424.1,554.6 L426.6,553.4" fill="none" stroke="#666666" stroke-width="1.2"/>
<path d="M426.3,553.2 L431.3,564.2" fill="none" stroke="#666666" stroke-width="2.0"/>
<path d="M431.3,565.2 L436.9,537.7 L449,537.7" fill="none" stroke="#666666" stroke-width="1.2" stroke-linejoin="miter"/>
<text transform="translate(439.6,559.7) scale(1,1.1)" font-style="italic">s</text>
<path d="M440.9,550.0 L443.2,547.0 L445.5,550.0" fill="none" stroke="#666666" stroke-width="1.0"/>
<text transform="translate(450.3,559.7) scale(1,1.1)">(GeV)</text>
</g>
<rect x="4.3" y="345.45" width="23.3" height="2.1" fill="#666666"/>
<rect x="5.9" y="316.34999999999997" width="22.2" height="2.1" fill="#666666"/>
<line x1="23" y1="292.0" x2="3.2" y2="286.7" stroke="#666666" stroke-width="2"/>
<g transform="translate(22.7,350.0) rotate(-90)" fill="#666666" font-family="Liberation Sans, sans-serif">
<text transform="translate(12.11,0) scale(1,1.04)" font-size="23.0">F</text>
<text transform="translate(39.12,-9.2) scale(1,1.07)" font-size="15.6">2</text>
<text transform="translate(64.97,-0.1) scale(1,1.14)" font-size="23.0">(</text>
<text transform="translate(74.36,0) scale(1,1.04)" font-size="23.0" font-style="italic">g</text>
<text transform="translate(86.96,5.6) scale(1,1.07)" font-size="15.6" font-style="italic">s</text>
<text transform="translate(87.04,-9.3) scale(1,1.07)" font-size="15.6">4</text>
<text transform="translate(103.40,0) scale(1,1.04)" font-size="23.0" font-style="italic">y</text>
<text transform="translate(113.59,5.6) scale(1,1.07)" font-size="15.6" font-style="italic">t</text>
<text transform="translate(113.52,-9.0) scale(1,1.07)" font-size="15.6">2</text>
<text transform="translate(124.87,-0.1) scale(1,1.14)" font-size="23.0">)</text>
<text transform="translate(139.31,-1.4) scale(1,1.04)" font-size="20.0">×</text>
<text transform="translate(152.35,0) scale(1,1.04)" font-size="23.0">1</text>
<text transform="translate(163.70,0.3) scale(1,1.04)" font-size="23.0">0</text>
<text transform="translate(178.24,-9.4) scale(1,1.07)" font-size="15.6">4</text>
</g>
</svg>
</body></html>
